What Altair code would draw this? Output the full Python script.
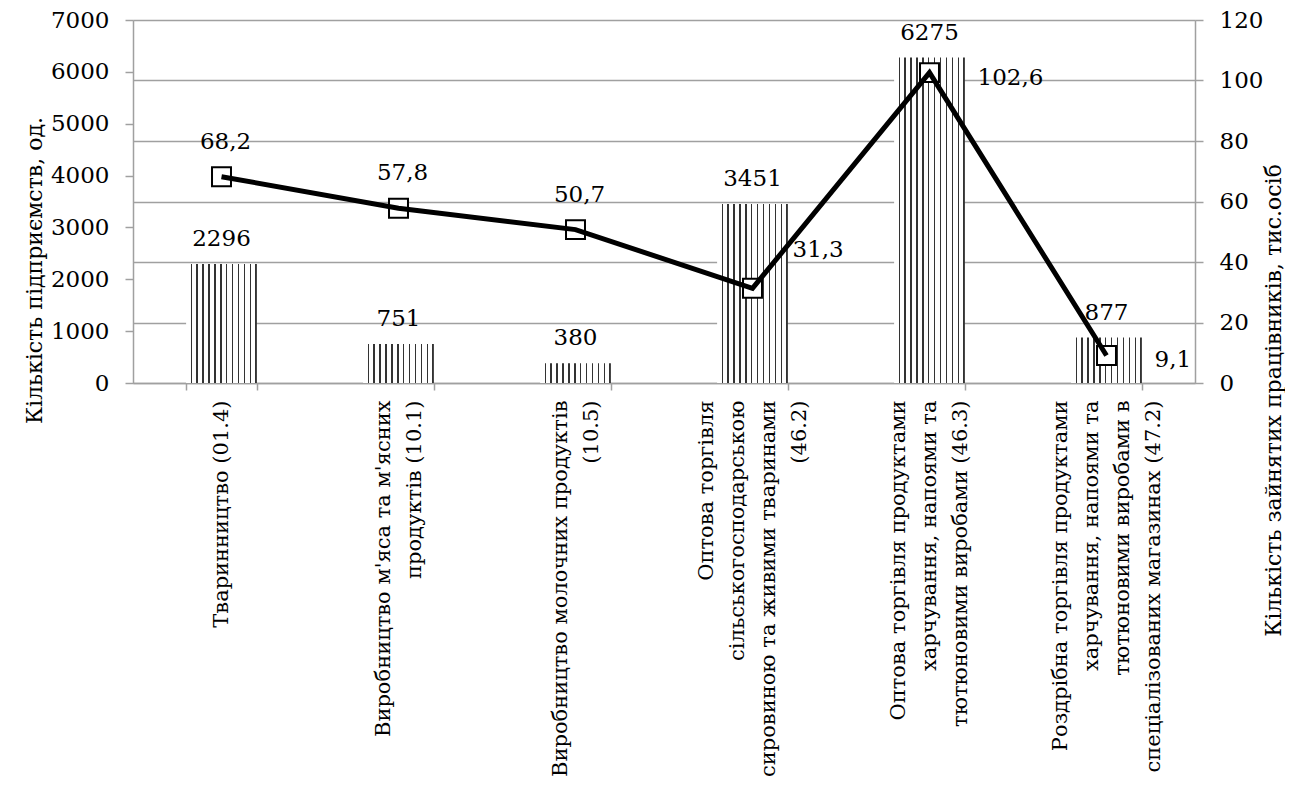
import altair as alt
import pandas as pd

# ---- data ----
cat_lines = [
    ["Тваринництво (01.4)"],
    ["Виробництво м'яса та м'ясних", "продуктів (10.1)"],
    ["Виробництво молочних продуктів", "(10.5)"],
    ["Оптова торгівля", "сільськогосподарською", "сировиною та живими тваринами", "(46.2)"],
    ["Оптова торгівля продуктами", "харчування, напоями та", "тютюновими виробами (46.3)"],
    ["Роздрібна торгівля продуктами", "харчування, напоями  та", "тютюновими виробами  в", "спеціалізованих магазинах (47.2)"],
]
categories = ["\n".join(l) for l in cat_lines]
enterprises = [2296, 751, 380, 3451, 6275, 877]
employees = [68.2, 57.8, 50.7, 31.3, 102.6, 9.1]
left_ticks = [0, 1000, 2000, 3000, 4000, 5000, 6000, 7000]
right_ticks = [0, 20, 40, 60, 80, 100, 120]

df = pd.DataFrame({"cat": categories, "ent": enterprises, "emp": employees})

FONT = "DejaVu Serif"
GRAY = "#a0a0a0"
LH = 31
NUM = 23

# hatch-like fill (stripes)
n = 12
stops = []
for k in range(n):
    a, b, c = k / n, (k + 0.76) / n, (k + 1) / n
    stops += [
        alt.GradientStop(offset=a, color="white"),
        alt.GradientStop(offset=b, color="white"),
        alt.GradientStop(offset=b, color="#333333"),
        alt.GradientStop(offset=c, color="#333333"),
    ]
hatch = alt.Gradient(gradient="linear", stops=stops, x1=0, x2=1, y1=0, y2=0)

x = alt.X(
    "cat:N", sort=categories,
    scale=alt.Scale(paddingInner=0.6, paddingOuter=0.3),
    axis=alt.Axis(
        title=None, labelAngle=-90, labelExpr="split(datum.label, '\\n')",
        labelFont=FONT, labelFontSize=21, labelLineHeight=LH, labelPadding=10,
        labelOffset=alt.ExprRef(expr=f"-(length(split(datum.value, '\\n')) - 1) * {LH / 2}"),
        labelColor="black", labelLimit=600, labelOverlap=False,
        tickBand="extent", tickSize=7, tickColor=GRAY, tickWidth=1.5,
        domainColor=GRAY, domainWidth=1.5,
    ),
)

y_left = alt.Y(
    "ent:Q", scale=alt.Scale(domain=[0, 7000], nice=False),
    axis=alt.Axis(
        title="Кількість підприємств, од.", orient="left", values=left_ticks, format="d",
        grid=False, labelFont=FONT, labelFontSize=NUM, labelColor="black",
        labelPadding=16, tickSize=8, tickColor=GRAY, tickWidth=1.5,
        domainColor=GRAY, domainWidth=1.5, labelOverlap=False,
        titleFont=FONT, titleFontSize=22, titleFontWeight="normal", titleColor="black",
        titleX=-99, titleY=250, titleAngle=270, titleAlign="center", titleBaseline="middle",
    ),
)

y_right = alt.Y(
    "emp:Q", scale=alt.Scale(domain=[0, 120], nice=False),
    axis=alt.Axis(
        title="Кількість зайнятих працівників, тис.осіб", orient="right", values=right_ticks,
        format="d", grid=True, gridColor=GRAY, gridWidth=1.5,
        labelFont=FONT, labelFontSize=NUM, labelColor="black",
        labelPadding=16, tickSize=8, tickColor=GRAY, tickWidth=1.5,
        domainColor=GRAY, domainWidth=1.5, labelOverlap=False,
        titleFont=FONT, titleFontSize=22, titleFontWeight="normal", titleColor="black",
        titleX=78, titleY=380, titleAngle=270, titleAlign="center", titleBaseline="middle",
    ),
)

base = alt.Chart(df)

bars = base.mark_bar(fill=hatch, stroke=None).encode(x=x, y=y_left)
bar_labels = base.mark_text(font=FONT, fontSize=NUM, baseline="middle", dy=-25, color="black").encode(
    x=x, y=y_left, text=alt.Text("ent:Q", format="d")
)
left = alt.layer(bars, bar_labels)

lab = base.transform_calculate(lbl="replace(format(datum.emp, '.1f'), '.', ',')")

points = base.mark_point(shape="square", size=360, filled=True, fill="white", stroke="black",
                         strokeWidth=2, opacity=1).encode(x=x, y=y_right)
line = base.mark_line(color="black", strokeWidth=5).encode(x=x, y=y_right)
above = lab.transform_filter(
    alt.FieldOneOfPredicate(field="cat", oneOf=categories[0:3])
).mark_text(font=FONT, fontSize=NUM, baseline="middle", dy=-35, dx=4, color="black").encode(
    x=x, y=y_right, text="lbl:N")
right_lab1 = lab.transform_filter(
    alt.FieldOneOfPredicate(field="cat", oneOf=[categories[3]])
).mark_text(font=FONT, fontSize=NUM, baseline="middle", align="left", dx=40, dy=-38, color="black").encode(
    x=x, y=y_right, text="lbl:N")
right_lab2 = lab.transform_filter(
    alt.FieldOneOfPredicate(field="cat", oneOf=categories[4:6])
).mark_text(font=FONT, fontSize=NUM, baseline="middle", align="left", dx=48, dy=5, color="black").encode(
    x=x, y=y_right, text="lbl:N")
right = alt.layer(points, line, above, right_lab1, right_lab2)

chart = alt.layer(left, right).resolve_scale(y="independent").properties(
    width=1062, height=363,
    autosize=alt.AutoSizeParams(type="none"),
    padding={"left": 125, "top": 12, "right": 90, "bottom": 400},
).configure_view(stroke=None).configure(background="white")

chart.save("out.html", embed_options={"renderer": "svg", "actions": False})
